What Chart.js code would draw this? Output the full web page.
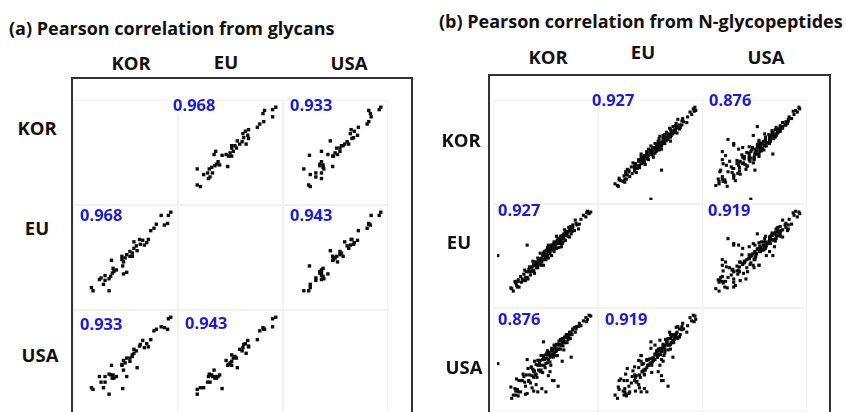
<!DOCTYPE html>
<html>
<head>
<meta charset="utf-8">
<script src="https://cdn.jsdelivr.net/npm/chart.js@4.4.0/dist/chart.umd.min.js"></script>
<style>
  body { margin: 0; width: 846px; height: 412px; overflow: hidden; background: #fff; position: relative; font-family: "Open Sans", "Noto Sans", sans-serif; }
  .txt { position: absolute; font-weight: 700; color: #111; white-space: nowrap; line-height: 1; }
  .title { font-size: 18px; }
  .head { font-size: 18.5px; transform: translate(-50%, -50%); }
  .frame { position: absolute; border: 2px solid #333; border-bottom: none; box-sizing: border-box; }
  .cell { position: absolute; border: 1px solid #f2f2f2; box-sizing: border-box; }
  .cell canvas { position: absolute; left: -1px; top: -1px; }
  .corr { position: absolute; font-weight: 700; font-size: 16.5px; color: #1818f2; background: #fff; line-height: 1; padding: 0 2px; transform: translateY(-50%); white-space: nowrap; }
</style>
</head>
<body>
<script>
const countries = ['KOR', 'EU', 'USA'];

// (a) glycans: relative abundance of each glycan in each region
const korGlycan = [100, 97, 96, 92, 88, 82, 79, 75, 72, 70, 67, 65, 62, 61, 58, 57, 54, 54, 52, 52, 49, 49, 45, 45, 43, 41, 41, 39, 39, 32, 29, 28, 27, 26, 25, 23, 23, 18, 18, 16, 13, 11, 3, 1, 40];
const euGlycan = [100, 96, 86, 84, 96, 85, 80, 77, 66, 62, 59, 65, 60, 66, 52, 58, 55, 63, 49, 45, 51, 45, 47, 25, 43, 23, 38, 41, 45, 28, 26, 30, 24, 40, 20, 17, 2, 15, 21, 10, 18, 16, 2, 6, 33];
const usaGlycan = [100, 98, 85, 87, 88, 85, 83, 72, 63, 67, 62, 71, 66, 64, 37, 58, 60, 55, 51, 53, 49, 45, 49, 26, 43, 34, 46, 41, 40, 26, 24, 28, 24, 40, 28, 29, 4, 19, 26, 12, 19, 26, 10, 12, 11];

// (b) N-glycopeptides
const korPeptide = [2, 5, 7, 9, 11, 12, 14, 16, 17, 19, 20, 21, 23, 24, 25, 26, 27, 28, 29, 30, 31, 31, 32, 33, 34, 35, 35, 36, 37, 38, 38, 39, 40, 41, 41, 42, 43, 44, 44, 45, 46, 47, 47, 48, 49, 50, 50, 51, 52, 53, 53, 54, 55, 55, 56, 57, 58, 58, 59, 60, 61, 61, 62, 63, 64, 64, 65, 66, 67, 67, 68, 69, 70, 71, 72, 73, 74, 75, 76, 77, 78, 80, 81, 83, 85, 88, 91, 94, 96, 98, 100, -14, 35, 22, 60, 48, 22, 45, 40, 55, 20, 11, 42, 76, 30, 53, 10, 8, 3,
  18, 24, 27, 33, 36, 39, 42, 45, 46, 48, 51, 52, 54, 56, 57, 59, 60, 62, 63, 65, 66, 68, 69, 71, 72, 74, 75, 78, 82, 86, 43, 50, 53, 58, 64, 70, 37, 30, 15, 8, 95, 28, 50, 65, 33];
const euPeptide = [5, 1, 13, 8, 13, 6, 19, 16, 14, 27, 18, 25, 16, 25, 31, 21, 30, 27, 38, 26, 33, 23, 37, 34, 32, 42, 30, 36, 41, 35, 48, 33, 42, 40, 46, 33, 46, 44, 40, 51, 47, 45, 55, 42, 52, 47, 50, 56, 45, 55, 57, 53, 50, 62, 57, 54, 69, 54, 61, 60, 55, 65, 60, 69, 56, 67, 66, 62, 72, 66, 77, 64, 70, 73, 69, 80, 68, 78, 77, 75, 83, 76, 89, 83, 78, 90, 95, 93, 100, 97, 99, 45, 33, 18, 66, 58, 58, 40, 37, 60, 14, 15, 45, 72, 26, 58, 6, 12, 4,
  22, 28, 25, 37, 40, 38, 48, 44, 52, 50, 53, 58, 57, 60, 58, 64, 62, 65, 63, 70, 69, 70, 74, 75, 74, 76, 81, 80, 85, 84, 50, 53, 52, 62, 68, 72, 36, 34, 12, 11, 98, 31, 54, 60, 30];
const usaPeptide = [11, 1, 9, 21, 5, 19, 5, 19, 27, 17, 12, 26, 34, 19, 26, 16, 35, 25, 33, 23, 43, 31, 26, 39, 23, 38, 44, 32, 38, 30, 44, 50, 38, 45, 29, 50, 38, 46, 35, 51, 47, 41, 56, 45, 54, 42, 52, 38, 59, 52, 57, 48, 63, 53, 59, 50, 64, 58, 50, 64, 58, 68, 63, 58, 69, 63, 71, 62, 69, 57, 73, 67, 73, 66, 76, 73, 79, 71, 79, 76, 82, 85, 79, 86, 86, 87, 93, 97, 95, 100, 99, 40, 5, 3, 12, 25, 45, 5, 9, 19, 2, 0, 67, 48, 6, 19, 8, 1, -3,
  24, 18, 36, 27, 44, 32, 47, 40, 53, 51, 49, 57, 51, 60, 55, 63, 58, 64, 70, 66, 71, 66, 73, 74, 70, 77, 76, 83, 83, 90, 45, 48, 56, 56, 63, 76, 40, 30, 19, 6, 92, 10, 30, 43, 14];

// Pearson r printed in the cells: KOR-EU, KOR-USA, EU-USA
const glycanCorr = [0.968, 0.933, 0.943];
const peptideCorr = [0.927, 0.876, 0.919];

const pairIndex = (i, j) => (i + j === 1 ? 0 : i + j === 2 ? 1 : 2);

function addText(cls, text, x, y) {
  const d = document.createElement('div');
  d.className = cls;
  d.textContent = text;
  d.style.left = x + 'px';
  d.style.top = y + 'px';
  document.body.appendChild(d);
  return d;
}

function buildMatrix(m) {
  addText('txt title', m.title, m.titleX, m.titleY);
  countries.forEach((c, i) => {
    addText('txt head', c, m.headX[i], m.headY[i]);
    addText('txt head', c, m.rowX[i], m.rowY[i]);
  });
  const f = document.createElement('div');
  f.className = 'frame';
  Object.assign(f.style, { left: m.frame[0] + 'px', top: m.frame[1] + 'px', width: m.frame[2] + 'px', height: m.frame[3] + 'px' });
  document.body.appendChild(f);

  for (let r = 0; r < 3; r++) {
    for (let c = 0; c < 3; c++) {
      const cell = document.createElement('div');
      cell.className = 'cell';
      Object.assign(cell.style, { left: m.cellX[c] + 'px', top: m.cellY[r] + 'px', width: m.cellW + 'px', height: m.cellH + 'px' });
      document.body.appendChild(cell);
      if (r === c) continue;

      const canvas = document.createElement('canvas');
      canvas.width = m.cellW;
      canvas.height = m.cellH;
      cell.appendChild(canvas);
      const xs = m.series[c], ys = m.series[r];
      new Chart(canvas, {
        type: 'scatter',
        data: {
          datasets: [{
            data: xs.map((x, k) => ({ x: x, y: ys[k] })),
            pointStyle: 'rect',
            pointRadius: m.radius,
            backgroundColor: '#0d0d0d',
            borderWidth: 0
          }]
        },
        options: {
          responsive: false,
          animation: false,
          events: [],
          devicePixelRatio: 1,
          layout: { padding: 0 },
          plugins: { legend: { display: false }, tooltip: { enabled: false } },
          scales: {
            x: { type: 'linear', display: false, min: m.min, max: m.max },
            y: { type: 'linear', display: false, min: m.min, max: m.max }
          }
        }
      });

      const pos = m.labelPos[r][c];
      addText('corr', m.corr[pairIndex(r, c)].toFixed(3), pos[0], pos[1]);
    }
  }
}

buildMatrix({
  title: '(a) Pearson correlation from glycans', titleX: 9, titleY: 19,
  headX: [131, 226, 349], headY: [63, 62, 63],
  rowX: [37, 37, 40], rowY: [128, 228, 355],
  frame: [71, 77, 342, 360],
  cellX: [73, 178, 283], cellY: [100, 205, 310], cellW: 105, cellH: 105,
  min: -17, max: 104, radius: 2.4,
  series: [korGlycan, euGlycan, usaGlycan],
  corr: glycanCorr,
  labelPos: [[null, [171, 105], [288, 105]], [[78, 215], null, [288, 215]], [[78, 324], [183, 323], null]]
});

buildMatrix({
  title: '(b) Pearson correlation from N-glycopeptides', titleX: 439, titleY: 12,
  headX: [548, 643, 766], headY: [57, 52, 57],
  rowX: [461, 459, 464], rowY: [140, 242, 367],
  frame: [488, 74, 343, 360],
  cellX: [493, 598, 702], cellY: [100, 204, 308], cellW: 105, cellH: 104,
  min: -15, max: 104, radius: 2.2,
  series: [korPeptide, euPeptide, usaPeptide],
  corr: peptideCorr,
  labelPos: [[null, [590, 100], [707, 100]], [[496, 210], null, [706, 210]], [[496, 319], [603, 319], null]]
});
</script>
</body>
</html>
